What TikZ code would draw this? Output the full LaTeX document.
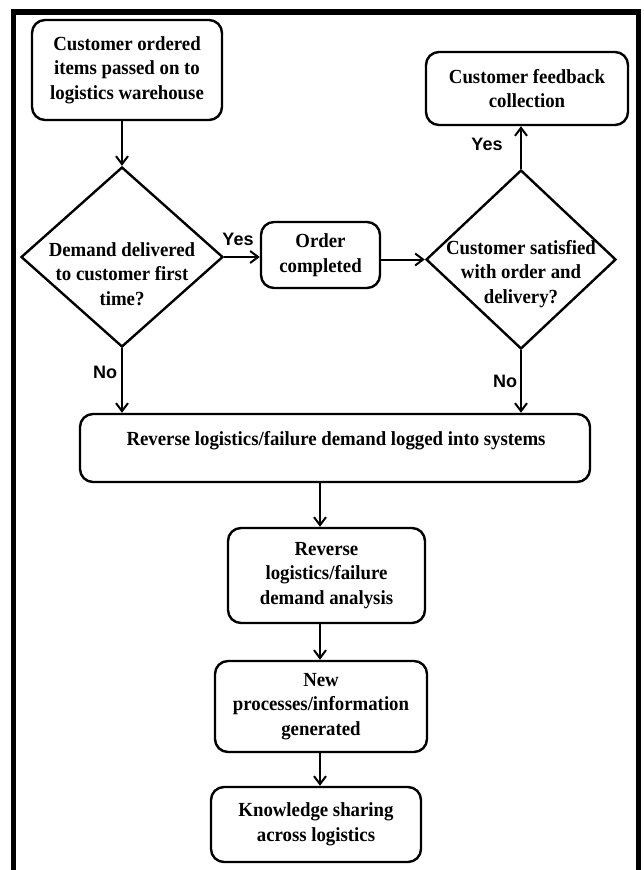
\documentclass[tikz,border=0pt]{standalone}
\usepackage{fontspec}
\setmainfont{Liberation Serif}[FakeStretch=0.94]
\newfontfamily\lblfont{Liberation Sans}
\usetikzlibrary{shapes.geometric,arrows.meta}
\newcommand\boxfont{\fontsize{20}{24.5}\selectfont\bfseries}
\newcommand\yesnofont{\lblfont\fontsize{18}{20}\selectfont\bfseries}
\begin{document}
\begin{tikzpicture}[x=1pt,y=-1pt,
  box/.style={draw, line width=2.4pt, rounded corners=13pt, inner sep=0pt, align=center, font=\boxfont},
  dia/.style={draw, shape=diamond, line width=2.4pt, inner sep=0pt},
  txt/.style={align=center, font=\boxfont, inner sep=0pt},
  lbl/.style={font=\yesnofont, inner sep=0pt},
  arr/.style={line width=2pt, -{Straight Barb[length=8pt,width=12pt,line width=2pt]}}
]
\useasboundingbox (0,0) rectangle (644,870);
\begin{scope}
  \clip (0,0) rectangle (644,870);
  \draw[line width=5.5pt] (13.5,890) -- (13.5,12) -- (638.5,12) -- (638.5,890);
\end{scope}

\node[box, minimum width=190pt, minimum height=100pt] (b1) at (127,70) {Customer ordered\\items passed on to\\logistics warehouse};
\node[dia, minimum width=202pt, minimum height=180pt] (d1) at (122,257) {};
\node[txt] (d1t) at (122,274) {Demand delivered\\to customer first\\time?};
\node[box, minimum width=119pt, minimum height=66pt] (oc) at (320.5,255) {Order\\completed};
\node[dia, minimum width=190pt, minimum height=179pt] (d2) at (521,259.5) {};
\node[txt] (d2t) at (521,274) {Customer satisfied\\with order and\\delivery?};
\node[box, minimum width=202pt, minimum height=73pt] (fb) at (527,88.5) {Customer feedback\\collection};
\node[box, minimum width=510pt, minimum height=68pt] (wb) at (335,448) {};
\node[txt] (wbt) at (336,441) {Reverse logistics/failure demand logged into systems};
\node[box, minimum width=197pt, minimum height=95pt] (ra) at (326.5,575.5) {Reverse\\logistics/failure\\demand analysis};
\node[box, minimum width=212pt, minimum height=91pt] (np) at (321,706.5) {New\\processes/information\\generated};
\node[box, minimum width=210pt, minimum height=75pt] (ks) at (316,824.5) {Knowledge sharing\\across logistics};

\node[lbl] (y1) at (238,239) {Yes};
\node[lbl] (y2) at (487,144) {Yes};
\node[lbl] (n1) at (105,372) {No};
\node[lbl] (n2) at (505,381) {No};

\coordinate (cx) at (320,500);
\draw[arr] (b1.south -| d1.north) -- (d1.north);
\draw[arr] (d1.east) -- (oc.west |- d1.east);
\draw[arr] (oc.east |- d2.west) -- (d2.west);
\draw[arr] (d2.north) -- (fb.south -| d2.north);
\draw[arr] (d1.south) -- (wb.north -| d1.south);
\draw[arr] (d2.south) -- (wb.north -| d2.south);
\draw[arr] (wb.south -| cx) -- (ra.north -| cx);
\draw[arr] (ra.south -| cx) -- (np.north -| cx);
\draw[arr] (np.south -| cx) -- (ks.north -| cx);
\end{tikzpicture}
\end{document}
